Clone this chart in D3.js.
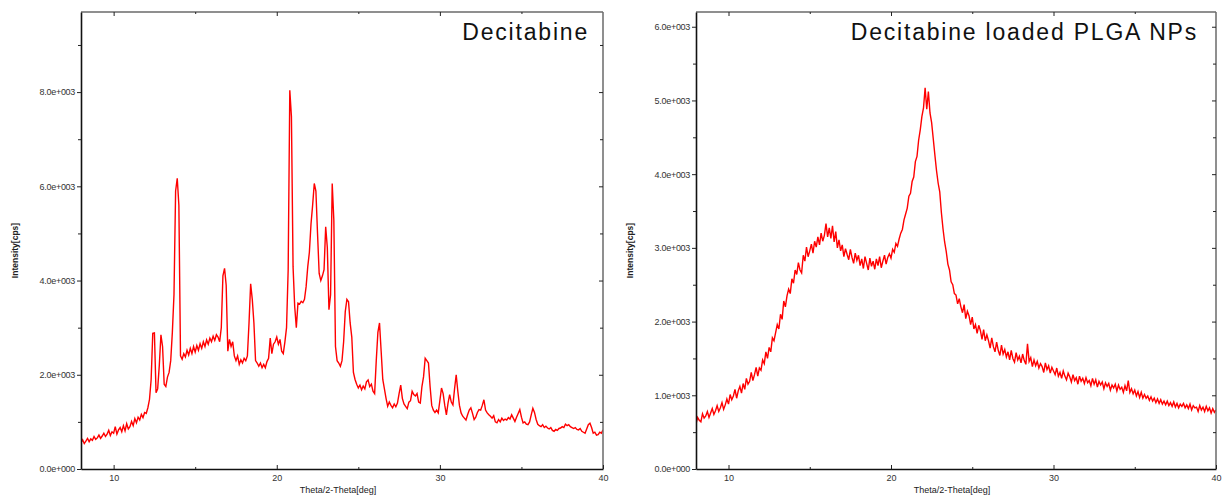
<!DOCTYPE html>
<html>
<head>
<meta charset="utf-8">
<script src="https://cdn.jsdelivr.net/npm/d3@7"></script>
<style>
  body { margin: 0; background: #fff; }
  svg { display: block; font-family: "Liberation Sans", Arial, sans-serif; }
  .tick text { fill: #333; }
</style>
</head>
<body>
<svg id="chart" width="1226" height="497"></svg>
<script>
// sampling grid of both scans (2-theta, degrees)
const angleStart = 8;
const angleStep = 0.1;

// Decitabine, intensity [cps], 8.0 .. 40.0 deg
const decitabine = [
  560, 620, 540, 590, 650, 580, 640, 610, 690, 630,
  660, 720, 650, 700, 760, 690, 740, 820, 710, 790,
  760, 900, 740, 830, 880, 790, 920, 810, 960, 850,
  900, 1010, 920, 1070, 980, 1100, 1040, 1160, 1090, 1200,
  1180, 1300, 1480, 1900, 2880, 2890, 1620, 1700, 2200, 2850,
  2600, 1800, 1750, 1950, 2050, 2300, 2900, 3700, 5900, 6170,
  5600, 2400, 2330, 2450, 2380, 2520, 2420, 2560, 2450, 2600,
  2480, 2620, 2520, 2660, 2560, 2700, 2600, 2740, 2650, 2780,
  2700, 2820, 2730, 2850, 2800, 2700, 3000, 4100, 4260, 3900,
  2500, 2750, 2600, 2700, 2400, 2300, 2400, 2220, 2320, 2250,
  2350, 2300, 2400, 3100, 3930, 3600, 3100, 2300, 2250, 2180,
  2250, 2150, 2220, 2150, 2280, 2350, 2780, 2450, 2650, 2700,
  2800, 2650, 2750, 2500, 2450, 2700, 3000, 4230, 8040, 7480,
  4290, 3450, 3000, 3520, 3500, 3560, 3530, 3600, 3870, 4290,
  4600, 5200, 5600, 6060, 5900, 5000, 4150, 4000, 4100, 4230,
  5140, 4700, 3380, 3700, 6060, 5280, 2600, 2300, 2250, 2180,
  2300, 2700, 3340, 3600, 3550, 3100, 2800, 2050, 1900, 1800,
  1720, 1780, 1680, 1760, 1700, 1850, 1890, 1750, 1800, 1650,
  1600, 2300, 2900, 3100, 2500, 1900, 1700, 1500, 1330, 1420,
  1350, 1300, 1380, 1320, 1400, 1600, 1780, 1500, 1380, 1330,
  1280, 1420, 1450, 1650, 1580, 1550, 1600, 1420, 1400, 1750,
  1960, 2350, 2300, 2250, 1750, 1350, 1250, 1200, 1250, 1190,
  1450, 1720, 1600, 1350, 1150, 1400, 1580, 1420, 1360, 1700,
  2000, 1650, 1350, 1190, 1120, 1080, 1040, 1150, 1250, 1300,
  1180, 1050, 1100, 1200, 1260, 1250, 1350, 1470, 1250, 1190,
  1150, 1120, 1080, 1130, 1000, 980, 1050, 1000, 1080, 1030,
  1060, 1040, 1090, 1060, 1150, 1080, 1010, 1100, 1180, 1260,
  1100, 980, 1000, 950, 940, 1000, 1150, 1290, 1200, 1050,
  950, 920, 900, 940, 880, 910, 870, 850, 880, 820,
  800, 840, 820, 860, 870, 900, 880, 950, 920, 940,
  900, 880, 860, 880, 840, 830, 860, 800, 780, 760,
  850, 940, 970, 880, 760, 780, 720, 730, 780, 760,
  830
];

// Decitabine loaded PLGA NPs, intensity [cps], 8.0 .. 40.0 deg
const loadedNPs = [
  610, 700, 660, 640, 750, 690, 720, 780, 700, 760,
  820, 740, 790, 860, 780, 830, 900, 810, 870, 950,
  880, 1010, 940, 990, 1080, 960, 1060, 1120, 1030, 1160,
  1080, 1230, 1150, 1190, 1310, 1200, 1280, 1380, 1260, 1370,
  1340, 1480, 1430, 1590, 1500, 1650, 1590, 1780, 1740, 1850,
  1960, 1900, 2100, 2030, 2280, 2200, 2350, 2440, 2380, 2580,
  2520, 2700, 2640, 2800, 2700, 2660, 2900, 2820, 3010, 2880,
  2960, 3050, 2930, 3090, 3010, 3150, 3040, 3200, 3090, 3170,
  3330, 3150, 3270, 3130, 3300, 3080, 3220, 3000, 3110, 2960,
  3040, 2880, 2990, 2910, 2840, 2980, 2870, 2790, 2930, 2830,
  2900, 2760, 2850, 2720, 2880, 2790, 2700, 2860, 2750, 2820,
  2710, 2850, 2760, 2880, 2730, 2820, 2900, 2780, 2870, 2920,
  2860, 2980, 2940, 3060, 3020, 3120, 3200, 3250, 3380, 3460,
  3540, 3700, 3740, 3900, 3960, 4170, 4240, 4460, 4600, 4780,
  4900, 5170, 4880, 5120, 4830, 4700, 4480, 4260, 4050, 3880,
  3760, 3480, 3260, 3080, 2950, 2780, 2700, 2540, 2500, 2380,
  2360, 2240, 2310, 2200, 2120, 2230, 2040, 2140, 2080, 1960,
  2060, 1900, 1960, 1840, 1950, 1880, 1760, 1890, 1740, 1820,
  1740, 1640, 1780, 1660, 1590, 1720, 1610, 1540, 1680, 1560,
  1620, 1520, 1590, 1480, 1610, 1500, 1450, 1580, 1480, 1530,
  1440, 1560, 1470, 1420, 1700, 1460, 1510, 1390, 1480, 1400,
  1460, 1370, 1430, 1390, 1310, 1440, 1350, 1400, 1300, 1380,
  1330, 1280, 1370, 1260, 1310, 1230, 1330, 1260, 1210, 1300,
  1250, 1180, 1280, 1200, 1240, 1150, 1260, 1190, 1230, 1160,
  1240, 1170, 1200, 1130, 1230, 1150, 1210, 1110, 1190, 1140,
  1180, 1090, 1170, 1120, 1160, 1070, 1140, 1100, 1150, 1060,
  1140, 1080, 1110, 1040, 1130, 1060, 1200, 1040, 1090, 1020,
  1070, 990, 1050, 970, 1040, 960, 1010, 960, 990, 930,
  980, 920, 960, 900, 950, 890, 940, 880, 920, 870,
  920, 860, 900, 850, 910, 840, 890, 830, 880, 850,
  890, 830, 870, 820, 880, 800, 860, 830, 840, 780,
  860, 800, 840, 780, 850, 790, 830, 760, 820, 770,
  800
];

const xTicks = [10, 20, 30, 40];
const xMinorTicks = [15, 25, 35];
const xTitle = "Theta/2-Theta[deg]";
const yTitle = "Intensity[cps]";

const svg = d3.select("#chart");

// "8.0e+003" style labels
function sciLabel(v) {
  if (v === 0) return "0.0e+000";
  const e = Math.floor(Math.log10(v));
  const m = v / Math.pow(10, e);
  return m.toFixed(1) + "e+" + String(e).padStart(3, "0");
}

function drawPanel(opts) {
  const { left, right, top, bottom, yMax, yMajor, yMinor, values, title, id } = opts;

  const x = d3.scaleLinear().domain([8, 40]).range([left, right]);
  const y = d3.scaleLinear().domain([0, yMax]).range([bottom, top]);

  const g = svg.append("g");

  g.append("clipPath").attr("id", "clip" + id)
    .append("rect")
    .attr("x", left).attr("y", top)
    .attr("width", right - left).attr("height", bottom - top);

  const pts = values.map((v, i) => [angleStart + i * angleStep, v]);

  g.append("path")
    .datum(pts)
    .attr("clip-path", `url(#clip${id})`)
    .attr("fill", "none")
    .attr("stroke", "#ff0000")
    .attr("stroke-width", 1.4)
    .attr("d", d3.line().x(d => x(d[0])).y(d => y(d[1])));

  // frame: top/right grey, left/bottom black
  g.append("line").attr("x1", left).attr("x2", right).attr("y1", top).attr("y2", top)
    .attr("stroke", "#6a6a6a").attr("stroke-width", 1.5);
  g.append("line").attr("x1", right).attr("x2", right).attr("y1", top).attr("y2", bottom)
    .attr("stroke", "#6a6a6a").attr("stroke-width", 1.5);

  // bottom axis, ticks inward
  const xb = g.append("g").attr("transform", `translate(0,${bottom})`)
    .call(d3.axisBottom(x).tickValues(xTicks).tickSizeInner(-4).tickSizeOuter(0).tickPadding(6));
  g.append("g").attr("transform", `translate(0,${bottom})`)
    .call(d3.axisBottom(x).tickValues(xMinorTicks).tickSizeInner(-2).tickSizeOuter(0).tickFormat(""))
    .select(".domain").remove();
  xb.selectAll("text").style("font-size", "9px").attr("dy", "0.71em");

  // top axis ticks
  g.append("g").attr("transform", `translate(0,${top})`)
    .call(d3.axisTop(x).tickValues(xTicks.filter(t => t < 40)).tickSizeInner(-4).tickSizeOuter(0).tickFormat(""))
    .select(".domain").remove();
  g.append("g").attr("transform", `translate(0,${top})`)
    .call(d3.axisTop(x).tickValues(xMinorTicks).tickSizeInner(-2).tickSizeOuter(0).tickFormat(""))
    .select(".domain").remove();

  // left axis, ticks outward
  const yl = g.append("g").attr("transform", `translate(${left},0)`)
    .call(d3.axisLeft(y).tickValues(yMajor).tickSizeInner(4).tickSizeOuter(0).tickPadding(2).tickFormat(sciLabel));
  g.append("g").attr("transform", `translate(${left},0)`)
    .call(d3.axisLeft(y).tickValues(yMinor).tickSizeInner(3).tickSizeOuter(0).tickFormat(""))
    .select(".domain").remove();
  yl.selectAll("text").style("font-size", "9px").style("letter-spacing", "-0.3px");

  // right axis ticks inward
  g.append("g").attr("transform", `translate(${right},0)`)
    .call(d3.axisRight(y).tickValues(yMajor.filter(v => v > 0)).tickSizeInner(-4).tickSizeOuter(0).tickFormat(""))
    .select(".domain").remove();
  g.append("g").attr("transform", `translate(${right},0)`)
    .call(d3.axisRight(y).tickValues(yMinor).tickSizeInner(-3).tickSizeOuter(0).tickFormat(""))
    .select(".domain").remove();

  g.selectAll(".domain").attr("stroke", "#111").attr("stroke-width", 1.6);
  g.selectAll(".tick line").attr("stroke", "#222");

  // axis titles
  g.append("text")
    .attr("x", (left + right) / 2 - 4)
    .attr("y", bottom + 24)
    .attr("text-anchor", "middle")
    .style("font-size", "9px")
    .attr("fill", "#222")
    .text(xTitle);

  g.append("text")
    .attr("transform", `translate(${left - 63},${(top + bottom) / 2 + 10}) rotate(-90)`)
    .attr("text-anchor", "middle")
    .style("font-size", "8.5px")
    .style("font-weight", "bold")
    .attr("fill", "#222")
    .text(yTitle);

  // panel title
  g.append("text")
    .attr("x", opts.titleX)
    .attr("y", 40)
    .attr("text-anchor", "end")
    .style("font-size", "23px")
    .style("letter-spacing", "1.8px")
    .attr("fill", "#111")
    .text(title);
}

drawPanel({
  id: "a", left: 81, right: 603, top: 12, bottom: 469, yMax: 9700,
  yMajor: [0, 2000, 4000, 6000, 8000],
  yMinor: [1000, 3000, 5000, 7000, 9000],
  values: decitabine, title: "Decitabine", titleX: 589
});

drawPanel({
  id: "b", left: 696, right: 1216, top: 12, bottom: 469, yMax: 6200,
  yMajor: [0, 1000, 2000, 3000, 4000, 5000, 6000],
  yMinor: [500, 1500, 2500, 3500, 4500, 5500],
  values: loadedNPs, title: "Decitabine loaded PLGA NPs", titleX: 1198
});
</script>
</body>
</html>
